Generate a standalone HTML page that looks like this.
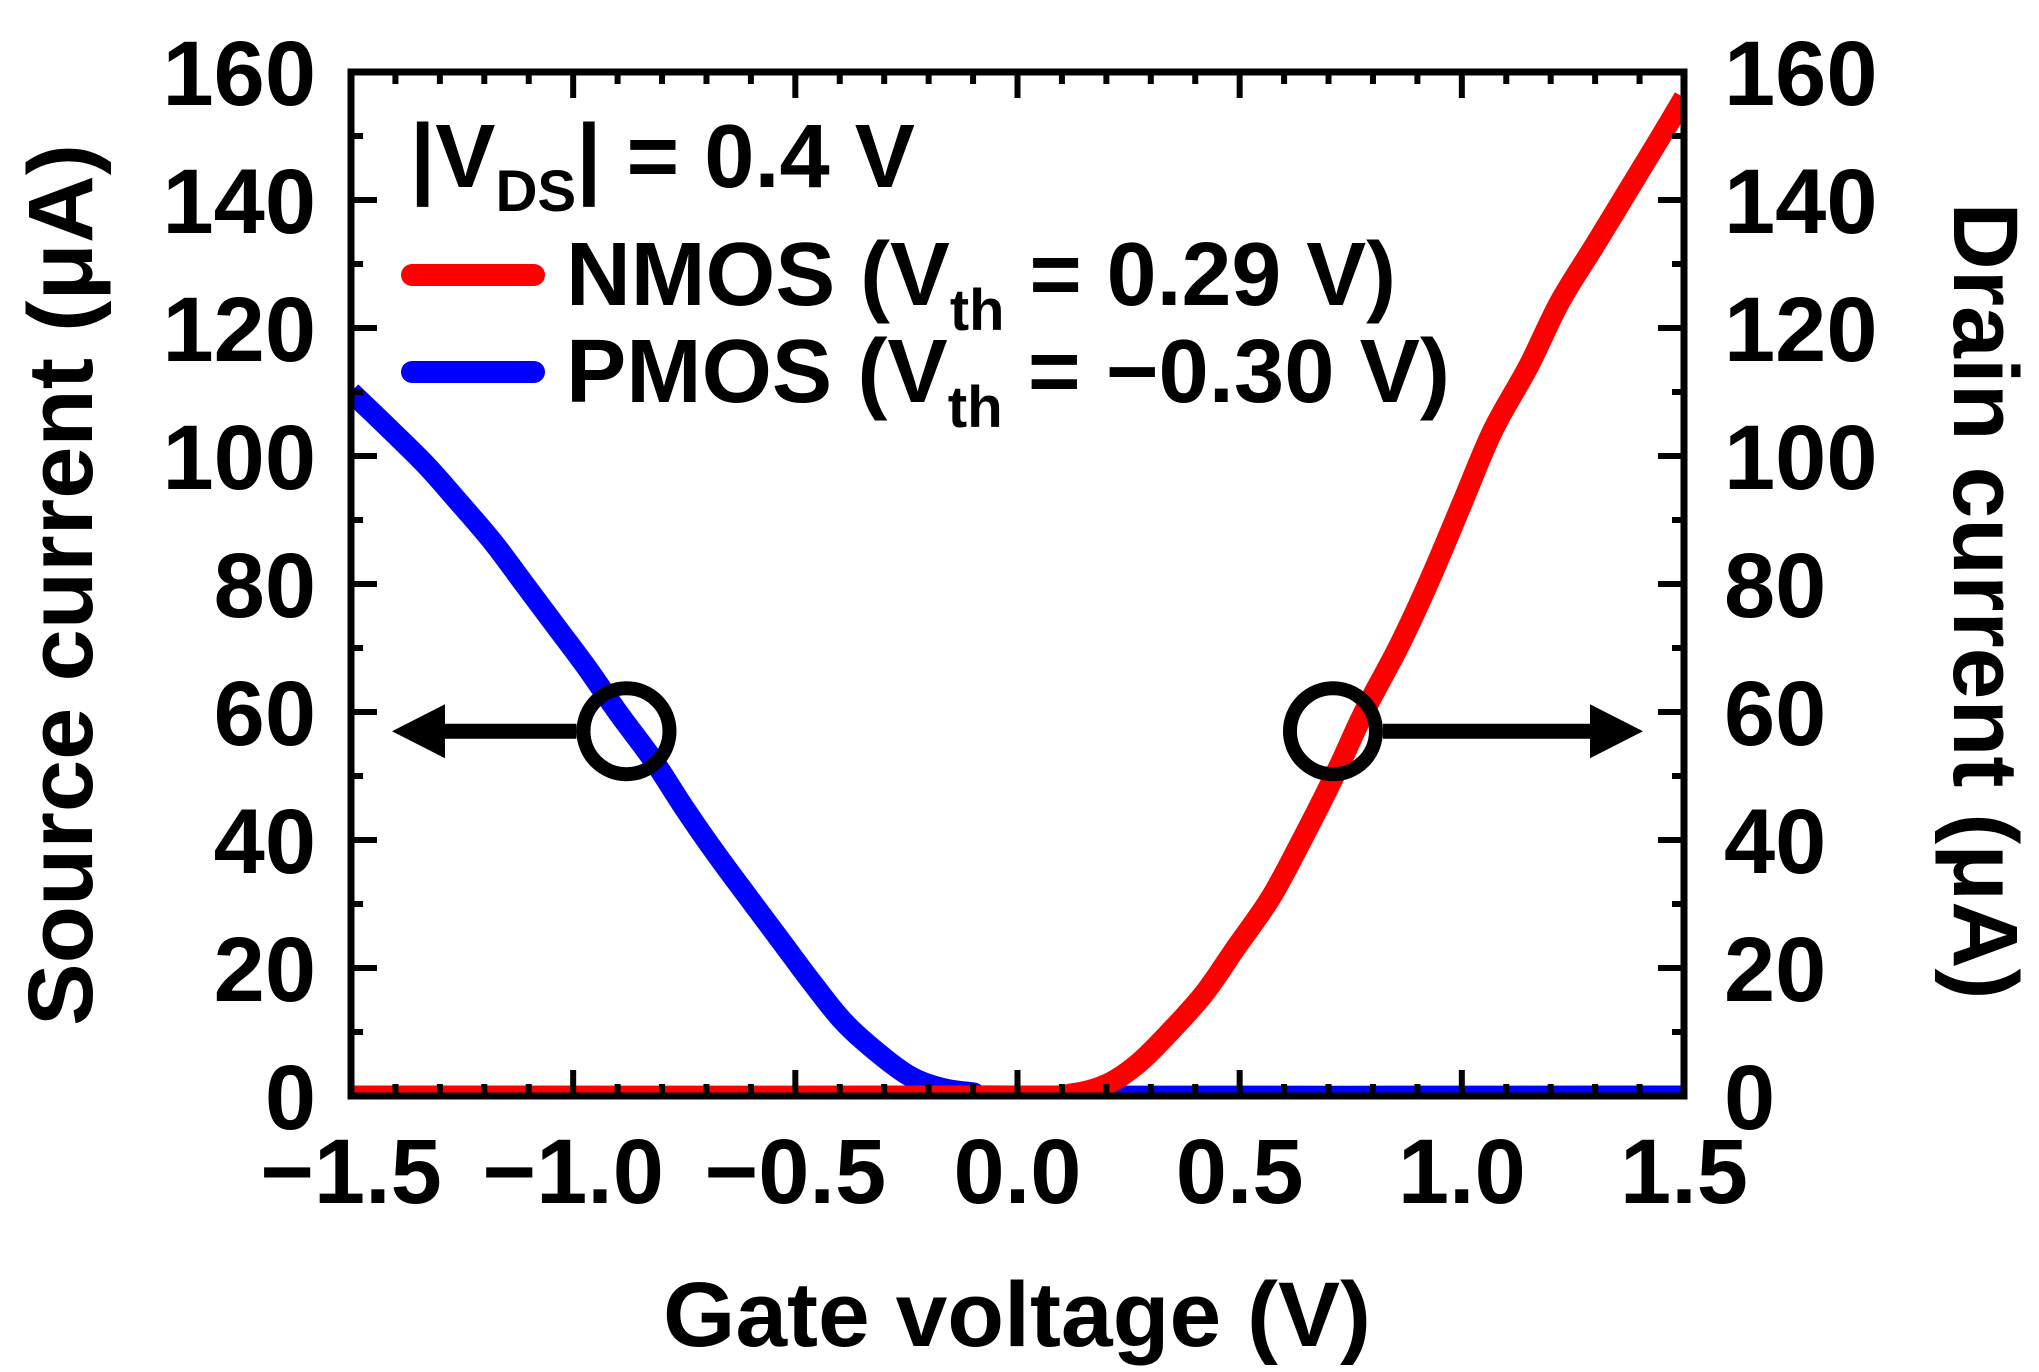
<!DOCTYPE html>
<html><head><meta charset="utf-8">
<style>
html,body{margin:0;padding:0;background:#fff;}
svg{display:block;font-family:"Liberation Sans",Arial,sans-serif;font-weight:bold;}
</style></head>
<body>
<svg id="chart" width="2039" height="1372" viewBox="0 0 2039 1372" xmlns="http://www.w3.org/2000/svg">
<defs><clipPath id="plotclip"><rect x="351" y="72" width="1333" height="1024"/></clipPath></defs>
<g id="curves" clip-path="url(#plotclip)"></g>
<g id="axes"></g>
<g id="annot"></g>
<g>
  <text x="410" y="187" font-size="90" textLength="505" lengthAdjust="spacingAndGlyphs">|V<tspan font-size="58" dy="24">DS</tspan><tspan dy="-24">| = 0.4 V</tspan></text>
  <line x1="412" y1="275" x2="534" y2="275" stroke="#ff0000" stroke-width="22" stroke-linecap="round"/>
  <text x="566" y="305" font-size="90" textLength="830" lengthAdjust="spacingAndGlyphs">NMOS (V<tspan font-size="58" dy="25">th</tspan><tspan dy="-25"> = 0.29 V)</tspan></text>
  <line x1="412" y1="372" x2="534" y2="372" stroke="#0000ff" stroke-width="22" stroke-linecap="round"/>
  <text x="566" y="402" font-size="90" textLength="884" lengthAdjust="spacingAndGlyphs">PMOS (V<tspan font-size="58" dy="25">th</tspan><tspan dy="-25"> = −0.30 V)</tspan></text>
</g>
<text x="1017" y="1346" font-size="92" text-anchor="middle" textLength="708" lengthAdjust="spacingAndGlyphs">Gate voltage (V)</text>
<text transform="translate(92,585) rotate(-90)" font-size="92" text-anchor="middle" textLength="882" lengthAdjust="spacingAndGlyphs">Source current (μA)</text>
<text transform="translate(1954,601) rotate(90)" font-size="92" text-anchor="middle" textLength="797" lengthAdjust="spacingAndGlyphs">Drain current (μA)</text>
</svg>
<script>
const nmosV = [-1.5, 0.0, 0.12, 0.20, 0.27, 0.34, 0.42, 0.49, 0.57, 0.64, 0.72, 0.78, 0.86, 0.93, 1.00, 1.07, 1.15, 1.22, 1.30, 1.37, 1.44, 1.5];
const nmosI = [0, 0, 0.3, 1.8, 5, 9.8, 16, 23, 31, 40, 51, 60, 70.5, 81, 92.5, 104, 114, 124, 133, 141, 149, 156];
const pmosV = [-1.5, -1.41, -1.33, -1.26, -1.18, -1.11, -1.04, -0.97, -0.90, -0.82, -0.75, -0.68, -0.60, -0.53, -0.46, -0.39, -0.31, -0.24, -0.17, -0.10, 0.0, 1.5];
const pmosI = [110, 104, 98.5, 93, 86.5, 80, 73.5, 67, 60, 52.5, 45, 38, 30.5, 24, 17.5, 11.5, 6.5, 3, 1.2, 0.5, 0, 0];
const xTickLabels = ["−1.5", "−1.0", "−0.5", "0.0", "0.5", "1.0", "1.5"];
const xTickValues = [-1.5, -1.0, -0.5, 0, 0.5, 1.0, 1.5];
const yTickValues = [0, 20, 40, 60, 80, 100, 120, 140, 160];
const markerLeft = [-0.88, 57];
const markerRight = [0.71, 57];

const X0 = 351, X1 = 1684, Y0 = 1096, Y1 = 72;
const xs = v => X0 + (v + 1.5) / 3 * (X1 - X0);
const ys = i => Y0 - i / 160 * (Y0 - Y1);
const NS = "http://www.w3.org/2000/svg";
function mk(tag, attrs, parent) {
  const e = document.createElementNS(NS, tag);
  for (const k in attrs) e.setAttribute(k, attrs[k]);
  parent.appendChild(e);
  return e;
}
const curves = document.getElementById('curves');
const axes = document.getElementById('axes');
const annot = document.getElementById('annot');

function smoothPath(pts) {
  let d = 'M' + pts[0][0].toFixed(1) + ' ' + pts[0][1].toFixed(1);
  for (let k = 0; k < pts.length - 1; k++) {
    const p0 = pts[Math.max(0, k - 1)], p1 = pts[k], p2 = pts[k + 1], p3 = pts[Math.min(pts.length - 1, k + 2)];
    const c1x = p1[0] + (p2[0] - p0[0]) / 6, c1y = p1[1] + (p2[1] - p0[1]) / 6;
    const c2x = p2[0] - (p3[0] - p1[0]) / 6, c2y = p2[1] - (p3[1] - p1[1]) / 6;
    d += ` C${c1x.toFixed(1)} ${c1y.toFixed(1)} ${c2x.toFixed(1)} ${c2y.toFixed(1)} ${p2[0].toFixed(1)} ${p2[1].toFixed(1)}`;
  }
  return d;
}
function series(V, I, color, name) {
  const pts = V.map((v, k) => [xs(v), ys(I[k])]);
  const p = mk('path', {d: smoothPath(pts), fill: 'none', stroke: color, 'stroke-width': 21, 'stroke-linejoin': 'round'}, curves);
  
  
}
series(pmosV, pmosI, '#0000ff', 'pmos-curve');
series(nmosV, nmosI, '#ff0000', 'nmos-curve');

for (let k = 0; k <= 30; k++) {
  const v = -1.5 + k * 0.1;
  const major = k % 5 === 0;
  const L = major ? 26 : 12;
  const x = xs(v);
  const t1 = mk('line', {x1: x, y1: Y0, x2: x, y2: Y0 - L, stroke: '#000', 'stroke-width': 6}, axes);
  
  
  const t2 = mk('line', {x1: x, y1: Y1, x2: x, y2: Y1 + L, stroke: '#000', 'stroke-width': 6}, axes);
  
  
}
for (let k = 0; k <= 16; k++) {
  const i = k * 10;
  const major = k % 2 === 0;
  const L = major ? 26 : 12;
  const y = ys(i);
  const t1 = mk('line', {x1: X0, y1: y, x2: X0 + L, y2: y, stroke: '#000', 'stroke-width': 6}, axes);
  
  
  const t2 = mk('line', {x1: X1, y1: y, x2: X1 - L, y2: y, stroke: '#000', 'stroke-width': 6}, axes);
  
  
}
const frame = mk('rect', {x: X0, y: Y1, width: X1 - X0, height: Y0 - Y1, fill: 'none', stroke: '#000', 'stroke-width': 7}, axes);



xTickValues.forEach((v, k) => {
  const t = mk('text', {x: xs(v), y: 1203, 'font-size': 92, 'text-anchor': 'middle'}, axes);
  t.textContent = xTickLabels[k];
  
  
});
yTickValues.forEach(i => {
  const y = ys(i) + 33;
  const a = mk('text', {x: 316, y: y, 'font-size': 92, 'text-anchor': 'end'}, axes);
  a.textContent = String(i);
  
  
  const b = mk('text', {x: 1724, y: y, 'font-size': 92, 'text-anchor': 'start'}, axes);
  b.textContent = String(i);
  
  
});

function marker(pt, dir, name) {
  const cx = xs(pt[0]), cy = ys(pt[1]);
  const c = mk('circle', {cx: cx, cy: cy, r: 43, fill: 'none', stroke: '#000', 'stroke-width': 14}, annot);
  
  
  const start = cx + dir * 50;
  const tip = dir < 0 ? X0 + 41 : X1 - 41;
  const base = tip - dir * 53;
  const l = mk('line', {x1: start, y1: cy, x2: base, y2: cy, stroke: '#000', 'stroke-width': 15}, annot);
  
  
  const h = mk('polygon', {points: `${tip},${cy} ${base},${cy - 27} ${base},${cy + 27}`, fill: '#000'}, annot);
  
  
}
marker(markerLeft, -1, 'pmos-axis-marker');
marker(markerRight, 1, 'nmos-axis-marker');
</script>
</body></html>
